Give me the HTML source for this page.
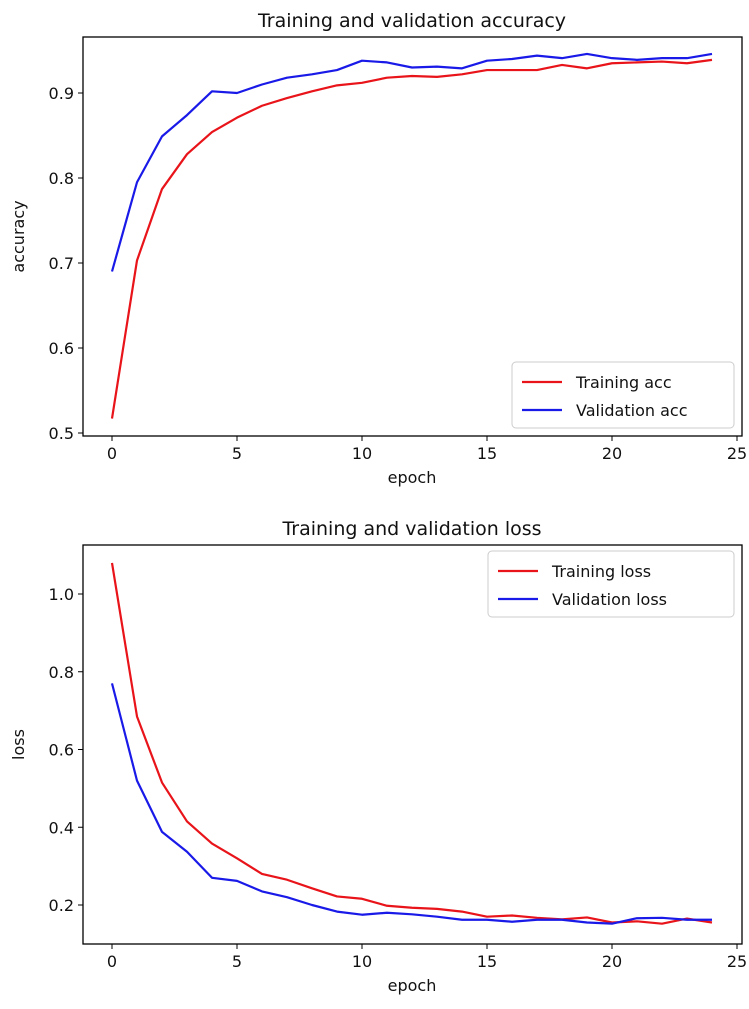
<!DOCTYPE html>
<html><head><meta charset="utf-8"><style>
body{margin:0;background:#fff;}
svg text{font-family:"DejaVu Sans","Liberation Sans",sans-serif;fill:#111;}
</style></head><body>
<svg id="c" width="749" height="1004" xmlns="http://www.w3.org/2000/svg"></svg>
<script>
const epochs=[0,1,2,3,4,5,6,7,8,9,10,11,12,13,14,15,16,17,18,19,20,21,22,23,24];
const trainAcc=[0.517,0.703,0.787,0.828,0.854,0.871,0.885,0.894,0.902,0.909,0.912,0.918,0.920,0.919,0.922,0.927,0.927,0.927,0.933,0.929,0.935,0.936,0.937,0.935,0.939];
const valAcc=[0.690,0.795,0.849,0.874,0.902,0.900,0.910,0.918,0.922,0.927,0.938,0.936,0.930,0.931,0.929,0.938,0.940,0.944,0.941,0.946,0.941,0.939,0.941,0.941,0.946];
const trainLoss=[1.08,0.685,0.515,0.415,0.358,0.32,0.28,0.265,0.243,0.222,0.216,0.198,0.193,0.19,0.183,0.17,0.173,0.167,0.163,0.168,0.155,0.158,0.152,0.165,0.155];
const valLoss=[0.77,0.52,0.388,0.337,0.27,0.262,0.235,0.22,0.2,0.183,0.175,0.18,0.176,0.17,0.162,0.162,0.157,0.162,0.162,0.155,0.152,0.166,0.167,0.162,0.162];
const xTicks=[0,5,10,15,20,25];
const accTicks=[0.5,0.6,0.7,0.8,0.9];
const lossTicks=[0.2,0.4,0.6,0.8,1.0];

const NS="http://www.w3.org/2000/svg";
const svg=document.getElementById('c');
function mk(tag,attrs,parent){const e=document.createElementNS(NS,tag);for(const k in attrs)e.setAttribute(k,attrs[k]);(parent||svg).appendChild(e);return e;}
const X=v=>112+v*25;

function panel(cfg){
  const g=mk('g',{});
  
  
  const Y=v=>cfg.y0px-(v-cfg.y0)*cfg.scale;
  const t=mk('text',{x:412,y:cfg.top-10,'font-size':19,'text-anchor':'middle'},g);t.textContent=cfg.title;
  
  
  const b=mk('rect',{x:83,y:cfg.top,width:659,height:cfg.bottom-cfg.top,fill:'none',stroke:'#000','stroke-width':1.3},g);
  
  
  xTicks.forEach(v=>{
    mk('line',{x1:X(v),x2:X(v),y1:cfg.bottom,y2:cfg.bottom+5,stroke:'#000'},g);
    const l=mk('text',{x:X(v),y:cfg.bottom+23,'font-size':16,'text-anchor':'middle'},g);l.textContent=v;
    
    
  });
  cfg.ticks.forEach(v=>{
    mk('line',{x1:78,x2:83,y1:Y(v),y2:Y(v),stroke:'#000'},g);
    const l=mk('text',{x:74,y:Y(v)+6,'font-size':16,'text-anchor':'end'},g);l.textContent=v.toFixed(1);
    
    
  });
  const xl=mk('text',{x:412,y:cfg.bottom+47,'font-size':16,'text-anchor':'middle'},g);xl.textContent='epoch';
  
  
  const yc=(cfg.top+cfg.bottom)/2;
  const yl=mk('text',{x:24,y:yc,'font-size':16,'text-anchor':'middle',transform:`rotate(-90 24 ${yc})`},g);yl.textContent=cfg.ylabel;
  
  
  cfg.series.forEach(s=>{
    const p=mk('polyline',{points:epochs.map((e,i)=>X(e)+','+Y(s.data[i])).join(' '),fill:'none',stroke:s.color,'stroke-width':2.2,'stroke-linejoin':'round'},g);
    
    
  });
  const L=cfg.legend;
  const lg=mk('g',{},g);
  
  
  mk('rect',{x:L.x,y:L.y,width:L.w,height:66,rx:4,fill:'#fff',stroke:'#ccc'},lg);
  cfg.series.forEach((s,i)=>{
    const yy=L.y+20+i*28;
    mk('line',{x1:L.x+10,x2:L.x+50,y1:yy,y2:yy,stroke:s.color,'stroke-width':2.2},lg);
    const tx=mk('text',{x:L.x+64,y:yy+6,'font-size':16},lg);tx.textContent=s.label;
    
    
  });
}
panel({name:'accuracy-chart',title:'Training and validation accuracy',ylabel:'accuracy',top:37,bottom:436,y0:0.5,y0px:433,scale:850,ticks:accTicks,
  legend:{x:512,y:362,w:222},
  series:[{id:'training-acc-line',data:trainAcc,color:'#e8141a',label:'Training acc'},{id:'validation-acc-line',data:valAcc,color:'#1a1ae8',label:'Validation acc'}]});
panel({name:'loss-chart',title:'Training and validation loss',ylabel:'loss',top:545,bottom:944,y0:0.2,y0px:905,scale:388.75,ticks:lossTicks,
  legend:{x:488,y:551,w:246},
  series:[{id:'training-loss-line',data:trainLoss,color:'#e8141a',label:'Training loss'},{id:'validation-loss-line',data:valLoss,color:'#1a1ae8',label:'Validation loss'}]});
</script>
</body></html>
